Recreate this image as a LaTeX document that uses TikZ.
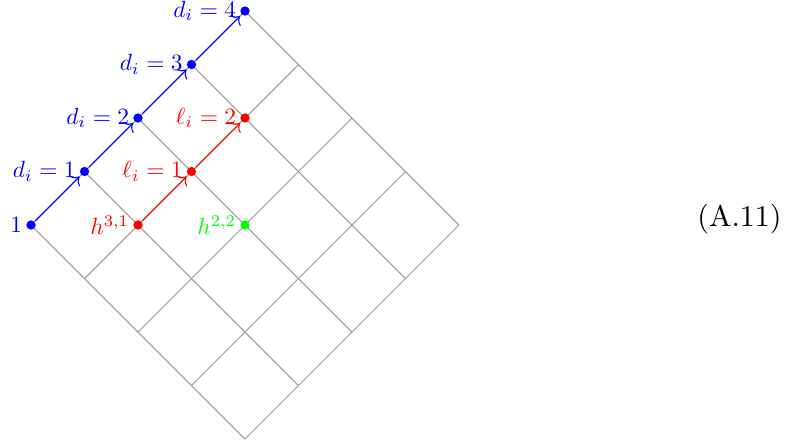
\documentclass[tikz,border=0pt]{standalone}
\usetikzlibrary{arrows.meta}
\begin{document}
\begin{tikzpicture}[x=0.3333pt,y=-0.3333pt,
  gridline/.style={draw=gray!80, line width=0.35pt},
  dot/.style={circle, fill=#1, inner sep=0pt, minimum size=3.1pt},
  lab/.style={text=#1, scale=0.78, transform shape, label distance=-2pt},
  arr/.style={draw=#1, line width=0.35pt, ->, shorten >=0.6pt, shorten <=0.3pt}]
\useasboundingbox (0,0) rectangle (792,442);
% grid coordinates: i along up-right, j along down-right
\foreach \i in {0,...,4}{
  \foreach \j in {0,...,4}{
    \coordinate (g\i\j) at ({31+53.5*\i+53.5*\j},{225-53.5*\i+53.5*\j});
  }
}
\foreach \k in {0,...,4}{
  \draw[gridline] (g0\k) -- (g4\k);
  \draw[gridline] (g\k0) -- (g\k4);
}
% dots
\node[dot=blue, label={[lab=blue]left:$1$}] (d0) at (g00) {};
\node[dot=blue, label={[lab=blue]left:$d_i=1$}] (d1) at (g10) {};
\node[dot=blue, label={[lab=blue]left:$d_i=2$}] (d2) at (g20) {};
\node[dot=blue, label={[lab=blue]left:$d_i=3$}] (d3) at (g30) {};
\node[dot=blue, label={[lab=blue]left:$d_i=4$}] (d4) at (g40) {};
\node[dot=red, label={[lab=red]left:$h^{3,1}$}] (h31) at (g11) {};
\node[dot=red, label={[lab=red]left:$\ell_i=1$}] (l1) at (g21) {};
\node[dot=red, label={[lab=red]left:$\ell_i=2$}] (l2) at (g31) {};
\node[dot=green, label={[lab=green]left:$h^{2,2}$}] (h22) at (g22) {};
% arrows
\draw[arr=blue] (d0) -- (d1);
\draw[arr=blue] (d1) -- (d2);
\draw[arr=blue] (d2) -- (d3);
\draw[arr=blue] (d3) -- (d4);
\draw[arr=red] (h31) -- (l1);
\draw[arr=red] (l1) -- (l2);
% equation number
\node[anchor=base] (eqn) at (739.5,226) {(A.11)};
\end{tikzpicture}
\end{document}
